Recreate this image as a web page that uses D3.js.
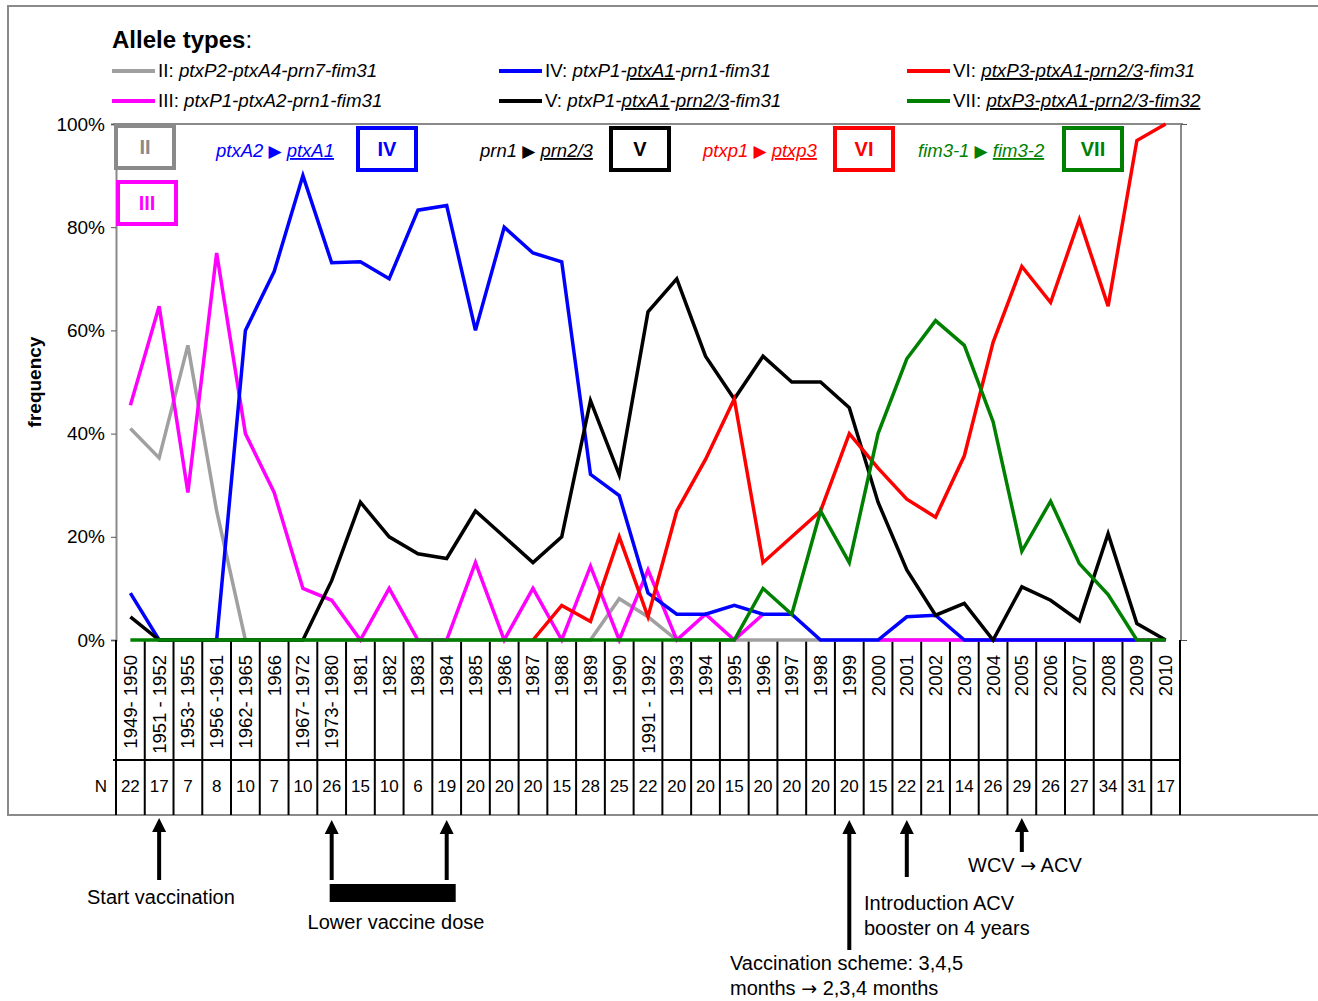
<!DOCTYPE html>
<html>
<head>
<meta charset="utf-8">
<script src="https://cdn.jsdelivr.net/npm/d3@7"></script>
<style>
  body { margin: 0; background: #fff; }
  svg { display: block; font-family: Arial, 'Liberation Sans', sans-serif; }
</style>
</head>
<body>
<svg id="chart" width="1318" height="1001"></svg>
<script>
const categories = ['1949- 1950', '1951 - 1952', '1953- 1955', '1956 -1961', '1962- 1965', '1966',
  '1967- 1972', '1973- 1980', '1981', '1982', '1983', '1984', '1985', '1986', '1987', '1988', '1989',
  '1990', '1991 - 1992', '1993', '1994', '1995', '1996', '1997', '1998', '1999', '2000', '2001', '2002',
  '2003', '2004', '2005', '2006', '2007', '2008', '2009', '2010'];

const sampleSizes = [22, 17, 7, 8, 10, 7, 10, 26, 15, 10, 6, 19, 20, 20, 20, 15, 28, 25, 22, 20, 20, 15,
  20, 20, 20, 20, 15, 22, 21, 14, 26, 29, 26, 27, 34, 31, 17];

// frequencies in %, null = not drawn
const typeII = [41, 35.3, 57.1, 25, 0, 0, 0, 0, 0, 0, 0, 0, 0, 0, 0, 0, 0, 8, 4.5, 0, 0, 0, 0, 0, 0,
  0, 0, 0, 0, 0, 0, 0, 0, 0, 0, 0, 0];
const typeIII = [45.5, 64.7, 28.6, 75, 40, 28.6, 10, 7.7, 0, 10, 0, 0, 15, 0, 10, 0, 14.3, 0, 13.6, 0,
  5, 0, 5, null, null, null, 0, 0, 0, 0, 0, 0, 0, 0, 0, 0, 0];
const typeIV = [9.1, 0, 0, 0, 60, 71.4, 90, 73.1, 73.3, 70, 83.3, 84.2, 60, 80, 75, 73.3, 32.1, 28, 9.1,
  5, 5, 6.7, 5, 5, 0, 0, 0, 4.5, 4.8, 0, 0, 0, 0, 0, 0, 0, null];
const typeV = [4.5, 0, 0, 0, 0, 0, 0, 11.5, 26.7, 20, 16.7, 15.8, 25, 20, 15, 20, 46.4, 32, 63.6, 70, 55,
  46.7, 55, 50, 50, 45, 26.7, 13.6, 4.8, 7.1, 0, 10.3, 7.7, 3.7, 20.6, 3.2, 0];
const typeVI = [null, null, null, null, null, null, null, null, null, null, null, null, null, null,
  0, 6.7, 3.6, 20, 4.5, 25, 35, 46.7, 15, 20, 25, 40, 33.3, 27.3, 23.8, 35.7, 57.7, 72.4, 65.4, 81.5,
  64.7, 96.8, 100];
const typeVII = [0, 0, 0, 0, 0, 0, 0, 0, 0, 0, 0, 0, 0, 0, 0, 0, 0, 0, 0, 0, 0, 0,
  10, 5, 25, 15, 40, 54.5, 61.9, 57.1, 42.3, 17.2, 26.9, 14.8, 8.8, 0, 0];

const yTicks = [0, 20, 40, 60, 80, 100];

const series = [
  { id: 'II', color: '#a0a0a0', values: typeII, parts: [['ptxP2-ptxA4-prn7-fim31', false]] },
  { id: 'III', color: '#ff00ff', values: typeIII, parts: [['ptxP1-ptxA2-prn1-fim31', false]] },
  { id: 'IV', color: '#0000ff', values: typeIV, parts: [['ptxP1-', false], ['ptxA1', true], ['-prn1-fim31', false]] },
  { id: 'V', color: '#000000', values: typeV, parts: [['ptxP1-', false], ['ptxA1', true], ['-', false], ['prn2/3', true], ['-fim31', false]] },
  { id: 'VI', color: '#ff0000', values: typeVI, parts: [['ptxP3-ptxA1-prn2/3', true], ['-fim31', false]] },
  { id: 'VII', color: '#008000', values: typeVII, parts: [['ptxP3-ptxA1-prn2/3-fim32', true]] }
];

const svg = d3.select('#chart');

const x = d3.scaleBand()
  .domain(d3.range(categories.length))
  .range([116, 1180]);
const y = d3.scaleLinear()
  .domain([0, 100])
  .range([640, 124]);
const cx = i => x(i) + x.bandwidth() / 2;

// outer frame
svg.append('rect')
  .attr('x', 8).attr('y', 6)
  .attr('width', 1330).attr('height', 809)
  .attr('fill', 'none')
  .attr('stroke', '#8a8a8a')
  .attr('stroke-width', 2);

// plot border
svg.append('path')
  .attr('d', `M113,${y(100)}H1183M1181,${y(100)}V${y(0)}`)
  .attr('fill', 'none')
  .attr('stroke', '#8a8a8a')
  .attr('stroke-width', 2);

const yAxis = svg.append('g')
  .attr('transform', 'translate(116,0)')
  .call(d3.axisLeft(y).tickValues(yTicks).tickFormat(d => d + '%').tickSize(5).tickPadding(6));
yAxis.attr('font-family', null).attr('font-size', null);
yAxis.select('.domain').attr('stroke', '#8a8a8a').attr('stroke-width', 2);
yAxis.selectAll('.tick line').attr('stroke', '#555');
yAxis.selectAll('.tick text').attr('font-size', 19).attr('fill', '#000');

const yAxisRight = svg.append('g')
  .attr('transform', 'translate(1181,0)')
  .call(d3.axisRight(y).tickValues([0, 100]).tickFormat('').tickSize(6));
yAxisRight.select('.domain').remove();
yAxisRight.selectAll('.tick line').attr('stroke', '#555');

svg.append('text')
  .attr('transform', `translate(41,${(y(0) + y(100)) / 2}) rotate(-90)`)
  .attr('text-anchor', 'middle')
  .attr('font-size', 19)
  .attr('font-weight', 'bold')
  .text('frequency');

// table under the plot
const table = svg.append('g');
table.selectAll('line.col')
  .data(d3.range(categories.length + 1))
  .enter()
    .append('line')
    .attr('class', 'col')
    .attr('x1', i => i < categories.length ? x(i) : x.range()[1])
    .attr('x2', i => i < categories.length ? x(i) : x.range()[1])
    .attr('y1', y(0))
    .attr('y2', 815)
    .attr('stroke', '#000')
    .attr('stroke-width', 2);
table.append('line')
  .attr('x1', 113).attr('x2', x.range()[1])
  .attr('y1', 760).attr('y2', 760)
  .attr('stroke', '#000')
  .attr('stroke-width', 2);

table.selectAll('text.cat')
  .data(categories)
  .enter()
    .append('text')
    .attr('class', 'cat')
    .attr('transform', (d, i) => `translate(${cx(i) + 6.5},655) rotate(-90)`)
    .attr('text-anchor', 'end')
    .attr('font-size', 18.5)
    .text(d => d);

table.append('text')
  .attr('x', 101).attr('y', 792)
  .attr('text-anchor', 'middle')
  .attr('font-size', 17)
  .text('N');
table.selectAll('text.n')
  .data(sampleSizes)
  .enter()
    .append('text')
    .attr('class', 'n')
    .attr('x', (d, i) => cx(i))
    .attr('y', 792)
    .attr('text-anchor', 'middle')
    .attr('font-size', 17)
    .text(d => d);

// series lines
const line = d3.line()
  .defined(d => d != null)
  .x((d, i) => cx(i))
  .y(d => y(d));

svg.append('g')
  .selectAll('path')
  .data(series)
  .enter()
    .append('path')
    .attr('d', d => line(d.values))
    .attr('fill', 'none')
    .attr('stroke', d => d.color)
    .attr('stroke-width', 3.5)
    .attr('stroke-linejoin', 'miter');

// legend
svg.append('text')
  .attr('x', 112).attr('y', 48)
  .attr('font-size', 24)
  .call(t => t.append('tspan').attr('font-weight', 'bold').text('Allele types'))
  .call(t => t.append('tspan').text(':'));

const legendCols = [112, 499, 907];
const legendRows = [71, 101];
const legend = svg.append('g')
  .selectAll('g')
  .data(series)
  .enter()
    .append('g')
    .attr('transform', (d, i) => `translate(${legendCols[Math.floor(i / 2)]},${legendRows[i % 2]})`);
legend.append('line')
  .attr('x1', 0).attr('x2', 43)
  .attr('stroke', d => d.color)
  .attr('stroke-width', 4);
legend.append('text')
  .attr('x', 46).attr('y', 6)
  .attr('font-size', 18.8)
  .each(function(d) {
    const t = d3.select(this);
    t.append('tspan').text(d.id + ': ');
    d.parts.forEach(p => {
      t.append('tspan')
        .attr('font-style', 'italic')
        .attr('text-decoration', p[1] ? 'underline' : null)
        .text(p[0]);
    });
  });

// type boxes in the plot
const boxes = [
  { id: 'II', color: '#8a8a8a', x: 114, y: 124 },
  { id: 'III', color: '#ff00ff', x: 116, y: 180 },
  { id: 'IV', color: '#0000ff', x: 356, y: 126 },
  { id: 'V', color: '#000000', x: 609, y: 126 },
  { id: 'VI', color: '#ff0000', x: 833, y: 126 },
  { id: 'VII', color: '#008000', x: 1062, y: 126 }
];
const box = svg.append('g')
  .selectAll('g')
  .data(boxes)
  .enter()
    .append('g')
    .attr('transform', d => `translate(${d.x},${d.y})`);
box.append('rect')
  .attr('x', 2).attr('y', 2)
  .attr('width', 58).attr('height', 42)
  .attr('fill', '#fff')
  .attr('stroke', d => d.color)
  .attr('stroke-width', 4);
box.append('text')
  .attr('x', 31).attr('y', 30)
  .attr('text-anchor', 'middle')
  .attr('font-size', 20)
  .attr('font-weight', 'bold')
  .attr('fill', d => d.color)
  .text(d => d.id);

// allele shift labels
const shifts = [
  { from: 'ptxA2', to: 'ptxA1', color: '#0000ff', x: 216 },
  { from: 'prn1', to: 'prn2/3', color: '#000000', x: 480 },
  { from: 'ptxp1', to: 'ptxp3', color: '#ff0000', x: 703 },
  { from: 'fim3-1', to: ' fim3-2', color: '#008000', x: 918 }
];
svg.append('g')
  .selectAll('text')
  .data(shifts)
  .enter()
    .append('text')
    .attr('x', d => d.x).attr('y', 157)
    .attr('font-size', 18.5)
    .attr('fill', d => d.color)
    .each(function(d) {
      const t = d3.select(this);
      t.append('tspan').attr('font-style', 'italic').text(d.from + ' ');
      t.append('tspan').attr('font-family', 'DejaVu Sans').attr('font-size', 17).text('\u25B6');
      t.append('tspan').text(' ');
      t.append('tspan').attr('font-style', 'italic').attr('text-decoration', 'underline').text(d.to);
    });

// events below the table
function arrow(g, xc, top, bottom) {
  g.append('line')
    .attr('x1', xc).attr('x2', xc)
    .attr('y1', top + 12).attr('y2', bottom)
    .attr('stroke', '#000')
    .attr('stroke-width', 4);
  g.append('path')
    .attr('d', `M${xc - 7},${top + 14}L${xc},${top}L${xc + 7},${top + 14}Z`)
    .attr('fill', '#000');
}

const notes = svg.append('g').attr('font-size', 20);
arrow(notes, cx(1), 818, 880);
arrow(notes, cx(7), 820, 880);
arrow(notes, cx(11), 820, 880);
arrow(notes, cx(25), 820, 950);
arrow(notes, cx(27), 820, 877);
arrow(notes, cx(31), 818, 852);

notes.append('rect')
  .attr('x', cx(7) - 2).attr('y', 884)
  .attr('width', cx(11) - cx(7) + 11).attr('height', 18)
  .attr('fill', '#000');

function arrowText(t, before, after) {
  t.append('tspan').text(before);
  t.append('tspan').attr('font-family', 'DejaVu Sans').attr('font-size', 19).text('\u2192');
  t.append('tspan').text(after);
}

notes.append('text').attr('x', 87).attr('y', 904).text('Start vaccination');
notes.append('text').attr('x', 396).attr('y', 929).attr('text-anchor', 'middle').text('Lower vaccine dose');
notes.append('text').attr('x', 968).attr('y', 872).call(t => arrowText(t, 'WCV ', ' ACV'));
notes.append('text').attr('x', 864).attr('y', 910).text('Introduction ACV');
notes.append('text').attr('x', 864).attr('y', 935).text('booster on 4 years');
notes.append('text').attr('x', 730).attr('y', 970).text('Vaccination scheme: 3,4,5');
notes.append('text').attr('x', 730).attr('y', 995).call(t => arrowText(t, 'months ', ' 2,3,4 months'));
</script>
</body>
</html>
